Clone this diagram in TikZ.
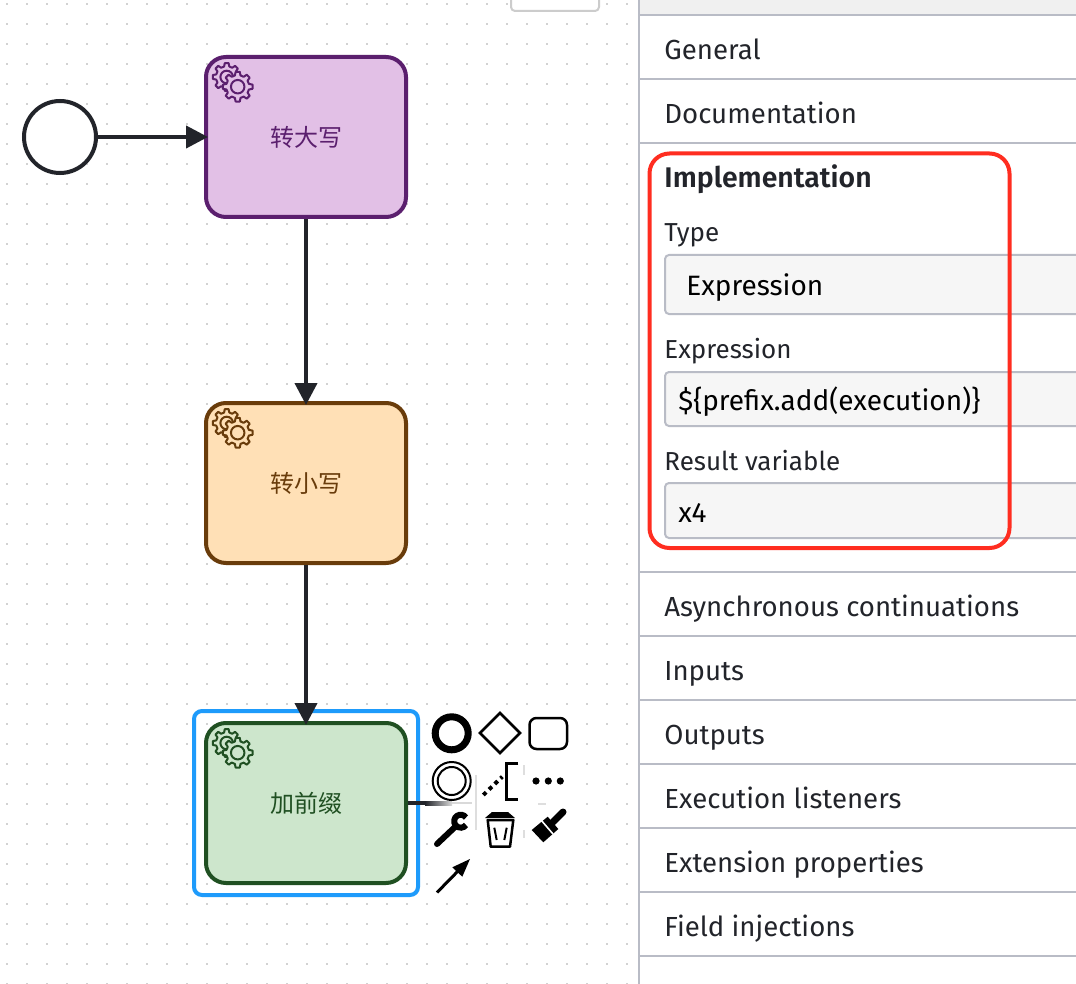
\documentclass[tikz,border=0pt]{standalone}
\usepackage{fontspec}
\setmainfont{Fira Sans}
\newfontfamily\headfont{Fira Sans SemiBold}
\newfontfamily\cjkfont{Noto Sans CJK SC}
\usetikzlibrary{positioning,arrows.meta,calc}

\definecolor{inkdark}{HTML}{22242A}
\definecolor{rulegray}{HTML}{B9BCC6}
\definecolor{dotgray}{HTML}{D2D2D2}
\definecolor{purpleline}{HTML}{5B1F6E}
\definecolor{purplefill}{HTML}{E2C0E6}
\definecolor{orangeline}{HTML}{693C0B}
\definecolor{orangefill}{HTML}{FFE0B6}
\definecolor{greenline}{HTML}{205022}
\definecolor{greenfill}{HTML}{CDE6CC}
\definecolor{selectblue}{HTML}{1E9BFB}
\definecolor{markred}{HTML}{FF2D20}

% cog wheel: center, outer radius, line colour, fill colour
\newcommand{\cogwheel}[4]{
	\begin{scope}[shift={#1}]
		\draw[line width=1pt, draw=#3, fill=#4, line join=round]
		(-14:#2*0.77) \foreach \a in {0,45,...,315} {
			-- (\a-14:#2*0.77) -- (\a-8:#2) -- (\a+8:#2) -- (\a+14:#2*0.77)
		} -- cycle;
		\draw[line width=1pt, draw=#3] (0,0) circle[radius=#2*0.45*0.5pt];
	\end{scope}
}

\tikzset{
	task/.style={draw=#1line, fill=#1fill, text=#1line, rectangle, rounded corners=10pt,
		line width=2pt, minimum width=100pt, minimum height=80pt, inner sep=0pt,
		font=\cjkfont\fontsize{12}{14}\selectfont},
	flow/.style={-{Triangle[length=11pt,width=11pt]}, line width=2pt, draw=inkdark, shorten >=-2pt},
	entry/.style={anchor=base west, inner sep=0pt, text=inkdark, font=\fontsize{13.8}{16}\selectfont},
	fieldname/.style={entry, font=\fontsize{13}{16}\selectfont},
	value/.style={anchor=base west, inner sep=0pt, text=black, font=\fontsize{14}{16}\selectfont},
	rulerow/.style={draw=rulegray, line width=1pt},
	inputbox/.style={draw=rulegray, fill=black!3.5, line width=1pt, rounded corners=2pt},
	icon/.style={draw=black, line width=1.25pt},
}

\begin{document}
\begin{tikzpicture}[x=0.5pt, y=-0.5pt]
	\useasboundingbox (0,0) rectangle (1076,984);
	\clip (0,0) rectangle (1076,984);
	\fill[white] (0,0) rectangle (1076,984);
	% Canvas dots
	\foreach \x in {7,27,...,627}
		\foreach \y in {4,24,...,984}
			\fill[dotgray] (\x-1,\y-1) rectangle (\x+1,\y+1);
	\draw[draw=black!20, fill=white, line width=1pt, rounded corners=2pt] (511,-10) rectangle (599,11);

	% Nodes
	\node[circle, draw=inkdark, fill=white, line width=2pt, inner sep=0pt, minimum size=36pt] (start) at (60,137) {};
	\node[task=purple, right=53pt of start] (upper) {\raisebox{1pt}{转大写}};
	\node[task=orange, below=91pt of upper] (lower) {\raisebox{1pt}{转小写}};
	\node[task=green, below=78pt of lower] (prefix) {\raisebox{1pt}{加前缀}};
	\coordinate (stubdark) at (425,803);
	\coordinate (stub) at (472,803);

	\cogwheel{($(upper.north west)+(22.7,22)$)}{14}{purpleline}{purplefill}
	\cogwheel{($(upper.north west)+(33.7,31.7)$)}{15}{purpleline}{purplefill}
	\cogwheel{($(lower.north west)+(22.7,22)$)}{14}{orangeline}{orangefill}
	\cogwheel{($(lower.north west)+(33.7,31.7)$)}{15}{orangeline}{orangefill}
	\cogwheel{($(prefix.north west)+(22.7,22)$)}{14}{greenline}{greenfill}
	\cogwheel{($(prefix.north west)+(33.7,31.7)$)}{15}{greenline}{greenfill}
	\draw[selectblue, line width=2pt, rounded corners=4pt] (194,711) rectangle (418,895);

	% Arrows
	\draw[flow] (start) -- (upper);
	\draw[flow] (upper) -- (lower);
	\draw[flow] (lower) -- (prefix);

	% Palette
	\fill[white] (432,710) rectangle (575,850);
	\fill[white] (432,850) rectangle (482,900);
	\draw[inkdark, line width=2pt] (prefix.east) -- (stubdark);
	\shade[left color=inkdark, right color=black!15] (425,801) rectangle (452,805);
	\draw[black!15, line width=1pt] (452,803) -- (stub);
	\draw[black!13, line width=1pt] (476,775) -- (476,830) (524,765) -- (524,775) (524,830) -- (524,838) (538,804) -- (546,804);
	\draw[icon, line width=3.5pt] (451.7,733.3) circle[radius=8.25pt];
	\draw[icon] (500,713) -- (520,733) -- (500,753) -- (480,733) -- cycle;
	\draw[icon, rounded corners=3.5pt] (529.5,718) rectangle (567,749);
	\draw[icon, line width=1pt] (451.7,781) circle[radius=9.5pt] (451.7,781) circle[radius=7pt];
	\draw[icon, line width=2pt, dash pattern=on 2pt off 2pt] (483.3,795) -- (502.3,776.7);
	\draw[icon, line width=1.5pt] (518.3,763.3) -- (506.7,763.3) -- (506.7,799.3) -- (518.3,799.3);
	\fill[black] (536,781) circle[radius=1.8pt] (548.3,781) circle[radius=1.8pt] (560.3,781) circle[radius=1.8pt];
	\draw[icon, line width=3pt, line cap=round] (437,844) -- (455,827);
	\draw[icon, line width=3pt] (466,817.5) arc[start angle=35, end angle=325, radius=3.25pt];
	\fill[black] (485,818) -- (492,812) -- (508,812) -- (515,818) -- cycle;
	\draw[icon, line join=round] (487.7,820) -- (513.3,820) -- (510,846.7) -- (490.7,846.7) -- cycle;
	\draw[icon, line width=1pt] (494.3,827.7) -- (496.7,840) (506.7,827.7) -- (504.3,840);
	\fill[black] (531.7,830) -- (547.7,816.7) -- (558.3,829) -- (543.3,842.3) -- cycle;
	\draw[white, line width=.8pt] (541,820) -- (553,834);
	\draw[black, line width=3.5pt, line cap=round] (563,812) -- (553,822);
	\draw[black, line width=1.5pt] (437,892.5) -- (460,869);
	\fill[black] (470,859) -- (452.3,867.3) -- (462.3,876.7) -- cycle;

	% Panel
	\fill[white] (640,0) rectangle (1076,984);
	\fill[black!6] (640,0) rectangle (1076,15);
	\draw[rulerow] (639,0) -- (639,984);
	\foreach \y in {15,79,143,572,636,700,764,828,892,956}
		\draw[rulerow] (640,\y) -- (1076,\y);

	\node[entry] (general) at (664,60) {General};
	\node[entry] (documentation) at (664,124) {Documentation};
	\node[entry, font=\headfont\fontsize{14.2}{16}\selectfont] (implementation) at (664,188) {Implementation};
	\node[fieldname] (typelabel) at (664,242) {Type};
	\draw[inputbox] (665,255) rectangle (1090,314);
	\node[value] (typevalue) at (686,295) {Expression};
	\node[fieldname] (exprlabel) at (664,358) {Expression};
	\draw[inputbox] (665,372) rectangle (1090,426);
	\node[value] (exprvalue) at (678,410) {\$\{prefix.add(execution)\}};
	\node[fieldname] (resultlabel) at (664,470) {Result variable};
	\draw[inputbox] (665,483) rectangle (1090,538);
	\node[value] (resultvalue) at (678,522) {x4};
	\node[entry] (async) at (664,616) {Asynchronous continuations};
	\node[entry] (inputs) at (664,680) {Inputs};
	\node[entry] (outputs) at (664,744) {Outputs};
	\node[entry] (listeners) at (664,808) {Execution listeners};
	\node[entry] (extension) at (664,872) {Extension properties};
	\node[entry] (field) at (664,936) {Field injections};
	\draw[markred, line width=2pt, rounded corners=10pt] (649.5,153.5) rectangle (1009.5,548);
\end{tikzpicture}
\end{document}
